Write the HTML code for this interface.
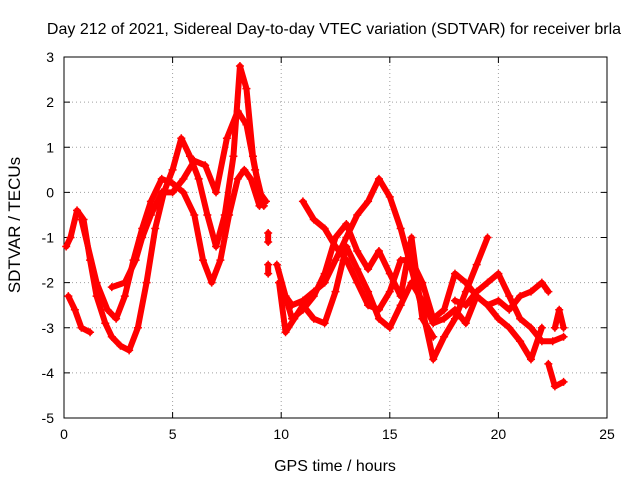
<!DOCTYPE html>
<html><head><meta charset="utf-8"><style>
body{margin:0;background:#fff}
svg{display:block;font-family:"Liberation Sans",sans-serif}
</style></head><body>
<svg id="chart" width="640" height="480">
<text x="334" y="34" text-anchor="middle" font-size="16">Day 212 of 2021, Sidereal Day-to-day VTEC variation (SDTVAR) for receiver brla</text>
<text x="335" y="471" text-anchor="middle" font-size="16">GPS time / hours</text>
<text transform="translate(20,225) rotate(-90)" text-anchor="middle" font-size="17">SDTVAR / TECUs</text>
<g id="grid"></g><g id="axes"></g><g id="marks"></g>
</svg>
<script>
const xTicks=[0,5,10,15,20,25];
const yTicks=[-5,-4,-3,-2,-1,0,1,2,3];
const s1=[[0.1,-1.2],[0.3,-1.0],[0.6,-0.4],[0.9,-0.6],[1.2,-1.5],[1.5,-2.3],[1.9,-2.9],[2.2,-3.2],[2.6,-3.4],[3.0,-3.5],[3.4,-3.0],[3.8,-2.0],[4.2,-0.8],[4.6,0.0],[5.0,0.5],[5.4,1.2],[5.8,0.8],[6.2,0.3],[6.6,-0.5],[7.0,-1.2],[7.4,-0.5],[7.8,0.8],[8.1,2.8],[8.4,2.3],[8.7,0.8],[9.0,0.0],[9.3,-0.2]];
const s2=[[0.8,-0.6],[1.5,-2.0],[2.0,-2.6],[2.4,-2.8],[2.8,-2.3],[3.2,-1.5],[3.6,-0.8],[4.0,-0.2],[4.5,0.3],[5.0,0.2],[5.5,0.0],[6.0,-0.5],[6.4,-1.5],[6.8,-2.0],[7.2,-1.5],[7.6,-0.5],[8.0,0.3],[8.3,0.5],[8.6,0.3],[9.0,-0.3]];
const s3=[[0.2,-2.3],[0.5,-2.6],[0.8,-3.0],[1.2,-3.1]];
const s3b=[[2.2,-2.1],[2.8,-2.0],[3.3,-1.5],[3.6,-1.0],[4.0,-0.5],[4.5,0.0],[5.0,0.0],[5.5,0.3],[6.0,0.7],[6.5,0.6],[7.0,0.0],[7.5,1.2],[8.0,1.8],[8.4,1.5],[8.8,0.5],[9.2,-0.3]];
const s3c=[[9.4,-0.9],[9.4,-1.1]];
const s3d=[[9.4,-1.6],[9.4,-1.8]];
const s4=[[9.8,-1.6],[10.2,-2.3],[10.5,-2.5],[11.0,-2.4],[11.5,-2.2],[12.0,-2.0],[12.5,-1.5],[13.0,-1.0],[13.5,-0.5],[14.0,-0.2],[14.5,0.3],[15.0,-0.1],[15.5,-0.8],[16.0,-1.7],[16.5,-2.6],[17.0,-3.7],[17.5,-3.2],[18.0,-2.8],[18.5,-2.2],[19.0,-1.6],[19.5,-1.0]];
const s5=[[9.9,-2.0],[10.2,-3.1],[10.6,-2.8],[11.0,-2.5],[11.5,-2.8],[12.0,-2.9],[12.5,-2.2],[13.0,-1.2],[13.5,-1.7],[14.0,-2.2],[14.5,-2.8],[15.0,-3.0],[15.5,-2.5],[16.0,-2.0],[16.5,-2.4],[17.0,-2.9],[17.5,-2.8],[18.0,-2.6],[18.5,-2.9],[19.0,-2.3],[19.5,-2.5],[20.0,-2.8],[20.5,-3.0],[21.0,-3.3],[21.5,-3.7],[22.0,-3.0]];
const s6=[[11.0,-0.2],[11.5,-0.6],[12.0,-0.8],[12.5,-1.2],[13.0,-1.5],[13.5,-2.0],[14.0,-2.5],[14.5,-2.6],[15.0,-2.2],[15.5,-1.5],[16.0,-1.5],[16.5,-2.0],[17.0,-2.8],[17.5,-2.6],[18.0,-1.8],[18.5,-2.0],[19.0,-2.3]];
const s7=[[10.0,-2.0],[10.5,-2.8],[11.0,-2.6],[11.5,-2.3],[12.0,-1.8],[12.5,-1.0],[13.0,-0.7],[13.5,-1.3],[14.0,-1.7],[14.5,-1.3],[15.0,-1.8],[15.5,-2.3],[16.0,-1.0],[16.5,-2.8],[17.0,-3.2]];
const s8=[[18.0,-2.4],[18.5,-2.5],[19.0,-2.2],[19.5,-2.0],[20.0,-1.8],[20.5,-2.3],[21.0,-2.8],[21.5,-3.0],[22.0,-3.3],[22.5,-3.3],[23.0,-3.2]];
const s9=[[19.5,-2.5],[20.0,-2.4],[20.5,-2.6],[21.0,-2.3],[21.5,-2.2],[22.0,-2.0],[22.3,-2.2]];
const s10=[[22.3,-3.8],[22.6,-4.3],[23.0,-4.2]];
const s11=[[22.6,-3.0],[22.8,-2.6],[23.0,-3.0]];
const series=[s1,s2,s3,s3b,s3c,s3d,s4,s5,s6,s7,s8,s9,s10,s11];
const X0=64,X1=607,Y0=418,Y1=57;
const xs=v=>X0+(v-0)/25*(X1-X0);
const ys=v=>Y0-(v+5)/8*(Y0-Y1);
const NS="http://www.w3.org/2000/svg";
function mk(tag,attrs,parent){const e=document.createElementNS(NS,tag);for(const k in attrs)e.setAttribute(k,attrs[k]);parent.appendChild(e);return e;}
const grid=document.getElementById('grid'),axes=document.getElementById('axes'),marks=document.getElementById('marks');
xTicks.forEach(t=>{const x=xs(t);
 if(t>0&&t<25){const l=mk('line',{x1:x,x2:x,y1:Y1,y2:Y0,stroke:'#a0a0a0','stroke-dasharray':'1,3'},grid);}
 mk('line',{x1:x,x2:x,y1:Y0,y2:Y0-6,stroke:'#000'},axes);mk('line',{x1:x,x2:x,y1:Y1,y2:Y1+6,stroke:'#000'},axes);
 const tx=mk('text',{x:x,y:Y0+21,'text-anchor':'middle','font-size':'14'},axes);tx.textContent=t;
 });
yTicks.forEach(t=>{const y=ys(t);
 if(t>-5&&t<3){const l=mk('line',{x1:X0,x2:X1,y1:y,y2:y,stroke:'#a0a0a0','stroke-dasharray':'1,3'},grid);}
 mk('line',{x1:X0,x2:X0+6,y1:y,y2:y,stroke:'#000'},axes);mk('line',{x1:X1,x2:X1-6,y1:y,y2:y,stroke:'#000'},axes);
 const tx=mk('text',{x:X0-10,y:y+5,'text-anchor':'end','font-size':'14'},axes);tx.textContent=t;
 });
const fr=mk('rect',{x:X0,y:Y1,width:X1-X0,height:Y0-Y1,fill:'none',stroke:'#000'},axes);

series.forEach((s,i)=>{
 const g=mk('g',{},marks);
 
 
 mk('polyline',{points:s.map(p=>xs(p[0])+','+ys(p[1])).join(' '),fill:'none',stroke:'#f00','stroke-width':6,'stroke-linejoin':'round','stroke-linecap':'round'},g);
 s.forEach(p=>{const x=xs(p[0]),y=ys(p[1]);
  mk('path',{d:`M${x-4},${y}H${x+4}M${x},${y-4}V${y+4}`,stroke:'#f00','stroke-width':1.5},g);});
});
</script>
</body></html>
